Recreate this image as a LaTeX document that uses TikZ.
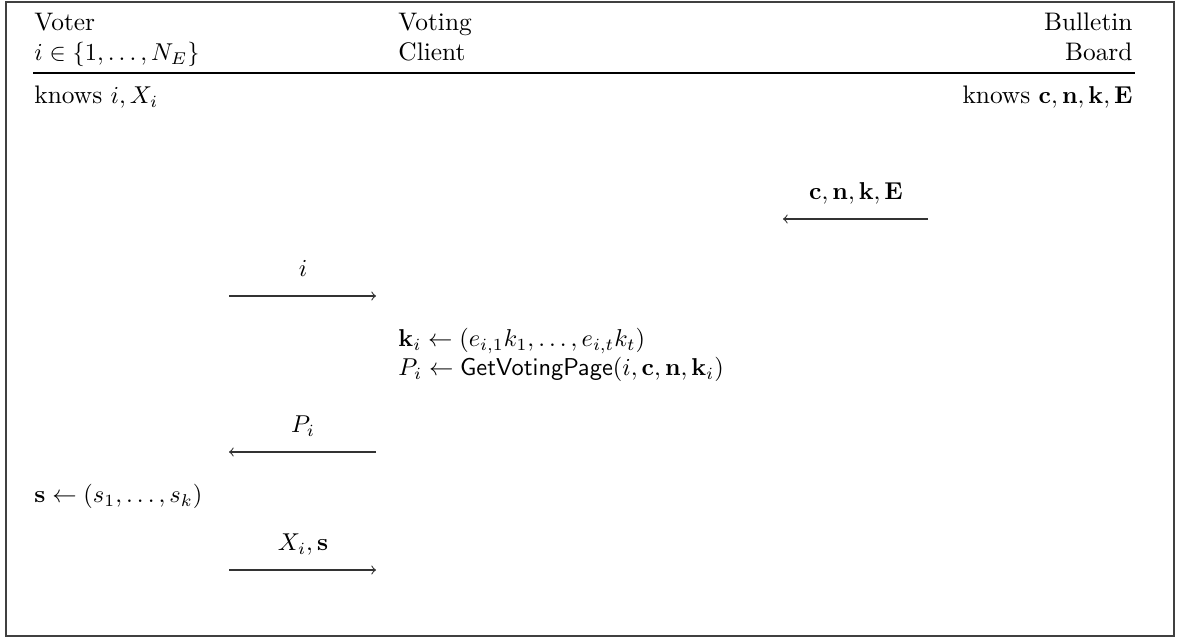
\documentclass[tikz,border=0pt]{standalone}
\usepackage{amsmath,amssymb}
\begin{document}
\begin{tikzpicture}[x=0.41pt,y=-0.41pt,
  txt/.style={inner sep=0pt,font=\fontsize{10.4}{12.5}\selectfont},
  msg/.style={->,line width=0.45pt,draw=black!80}]
\useasboundingbox (0,0) rectangle (1177,639);
\draw[line width=0.8pt,draw=black!75] (6,2) rectangle (1174,636);
% header
\node[txt,anchor=base west] (voter) at (34,31) {Voter};
\node[txt,anchor=base west] (voterid) at (34,61) {$i\in\{1,\ldots,N_E\}$};
\node[txt,anchor=base west] (vc1) at (398,31) {Voting};
\node[txt,anchor=base west] (vc2) at (398,61) {Client};
\node[txt,anchor=base east] (bb1) at (1133,31) {Bulletin};
\node[txt,anchor=base east] (bb2) at (1133,61) {Board};
\coordinate (hl) at (33,73);
\coordinate (hr) at (1135,73);
\draw[line width=0.45pt] (hl) -- (hr);
% knowledge
\node[txt,anchor=base west] (vk) at (34,104) {knows $i, X_i$};
\node[txt,anchor=base east] (bk) at (1133,104) {knows $\mathbf{c},\mathbf{n},\mathbf{k},\mathbf{E}$};
% message 1
\coordinate (m1s) at (928,219);
\coordinate (m1e) at (783,219);
\draw[msg] (m1s) -- (m1e);
\node[txt,anchor=base] (m1l) at (856,200) {$\mathbf{c},\mathbf{n},\mathbf{k},\mathbf{E}$};
% message 2
\coordinate (m2s) at (229,296);
\coordinate (m2e) at (376,296);
\draw[msg] (m2s) -- (m2e);
\node[txt,anchor=base] (m2l) at (303,277) {$i$};
% client computations
\node[txt,anchor=base west] (c1) at (398,347) {$\mathbf{k}_i \leftarrow (e_{i,1}k_1,\ldots,e_{i,t}k_t)$};
\node[txt,anchor=base west] (c2) at (398,376) {$P_i \leftarrow \mathsf{GetVotingPage}(i,\mathbf{c},\mathbf{n},\mathbf{k}_i)$};
% message 3
\coordinate (m3s) at (376,452);
\coordinate (m3e) at (229,452);
\draw[msg] (m3s) -- (m3e);
\node[txt,anchor=base] (m3l) at (303,433) {$P_i$};
% voter computation
\node[txt,anchor=base west] (v1) at (34,503) {$\mathbf{s} \leftarrow (s_1,\ldots,s_k)$};
% message 4
\coordinate (m4s) at (229,570);
\coordinate (m4e) at (376,570);
\draw[msg] (m4s) -- (m4e);
\node[txt,anchor=base] (m4l) at (303,551) {$X_i,\mathbf{s}$};
\end{tikzpicture}
\end{document}
